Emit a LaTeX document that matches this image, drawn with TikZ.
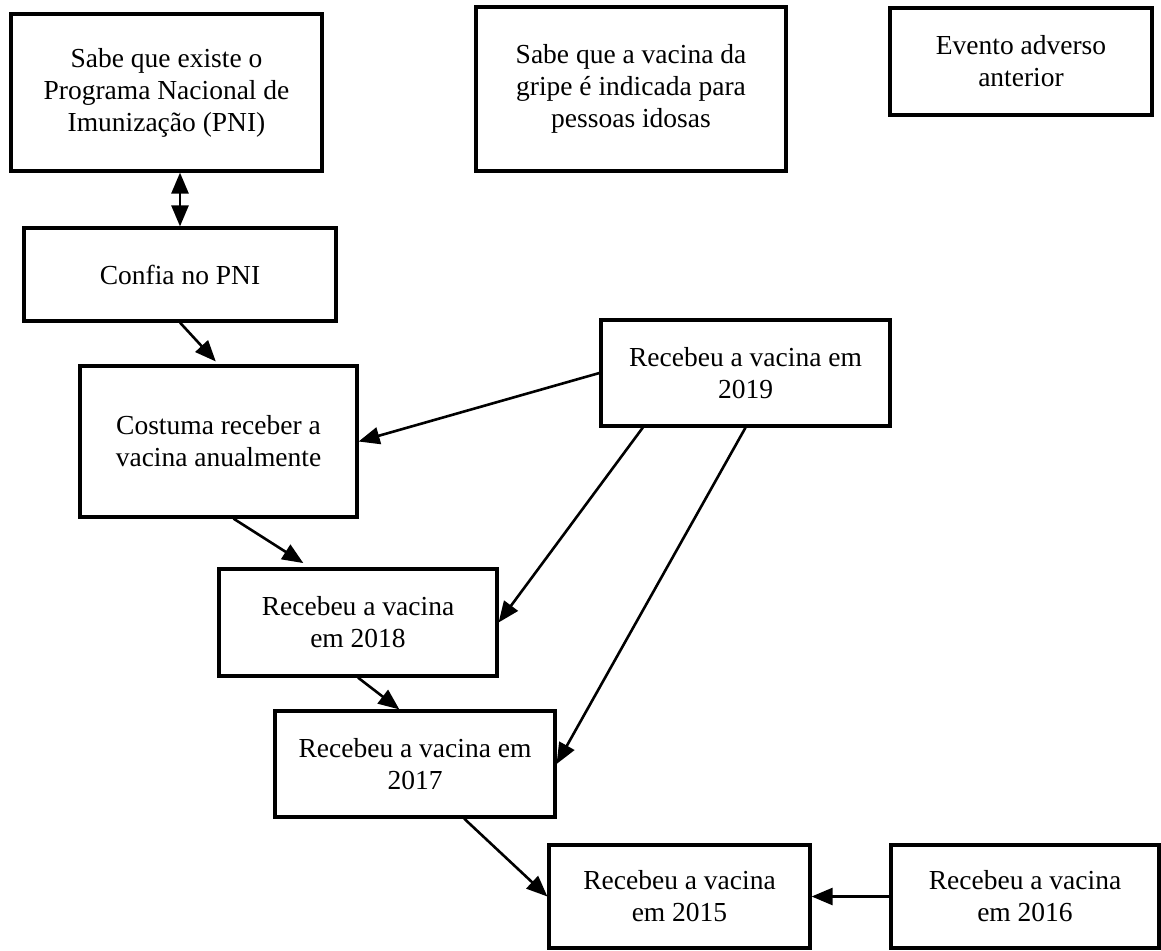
\documentclass[tikz,border=0pt]{standalone}
\usepackage{fontspec}
\setmainfont{Liberation Serif}
\usetikzlibrary{arrows.meta}

\begin{document}
\begin{tikzpicture}[x=1pt, y=-1pt,
        box/.style={draw, line width=3.2pt, align=center, inner sep=0pt,
                font=\fontsize{27.5}{32}\selectfont},
        link/.style={line width=2.6pt, -{Triangle[length=21pt, width=17pt]}}]
        \useasboundingbox [fill=white] (0, 0) rectangle (1161, 950);

        \node [box, minimum width=311pt, minimum height=157pt] (pni) at (166.5, 92.5) {Sabe que existe o\\Programa Nacional de\\Imunização (PNI)};
        \node [box, minimum width=310pt, minimum height=164pt] (idosas) at (631, 89) {Sabe que a vacina da\\gripe é indicada para\\pessoas idosas};
        \node [box, minimum width=262pt, minimum height=107pt] (evento) at (1021, 61.5) {Evento adverso\\anterior};

        \node [box, minimum width=312pt, minimum height=93pt] (confia) at (180, 274.5) {Confia no PNI};
        \node [box, minimum width=277pt, minimum height=151pt] (costuma) at (218.5, 441.5) {Costuma receber a\\vacina anualmente};
        \node [box, minimum width=289pt, minimum height=106pt] (v2019) at (745.5, 373) {Recebeu a vacina em\\2019};

        \node [box, minimum width=278pt, minimum height=107pt] (v2018) at (358, 622.5) {Recebeu a vacina\\em 2018};
        \node [box, minimum width=280pt, minimum height=106pt] (v2017) at (415, 764) {Recebeu a vacina em\\2017};
        \node [box, minimum width=261pt, minimum height=103pt] (v2015) at (679.5, 896.5) {Recebeu a vacina\\em 2015};
        \node [box, minimum width=268pt, minimum height=103pt] (v2016) at (1025, 896.5) {Recebeu a vacina\\em 2016};

        \draw [link, {Triangle[length=21pt, width=17pt]}-{Triangle[length=21pt, width=17pt]}] (confia.north |- pni.south) -- (confia.north);
        \draw [link, shorten >=4pt] (confia.south) -- (costuma.north);
        \draw [link, shorten >=8pt] (costuma.-79) -- (v2018.131);
        \draw [link] (v2018.south) -- (v2017.106);
        \draw [link] (v2017.-48) -- (v2015.west);
        \draw [link] (v2016.west) -- (v2015.east);

        \draw [link] (v2019.west) -- (costuma.east);
        \draw [link] (v2019.208) -- (v2018.east);
        \draw [link] (v2019.south) -- (v2017.east);
\end{tikzpicture}
\end{document}
